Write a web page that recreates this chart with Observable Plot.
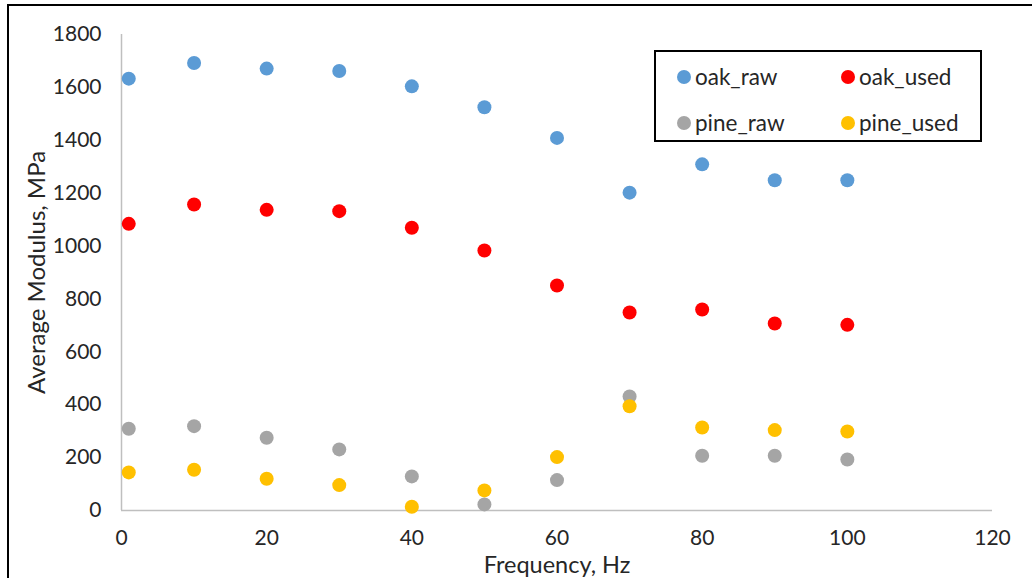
<!DOCTYPE html>
<html>
<head>
<meta charset="utf-8">
<script src="https://cdn.jsdelivr.net/npm/d3@7"></script>
<script src="https://cdn.jsdelivr.net/npm/@observablehq/plot@0.6"></script>
<style>
  html, body { margin: 0; padding: 0; background: #fff; }
  #wrap { position: relative; width: 1032px; height: 578px; overflow: hidden; font-family: Lato, "Noto Sans", sans-serif; }
  #border { position: absolute; left: 7px; top: 4px; width: 1100px; height: 700px; border-left: 2.5px solid #000; border-top: 2.5px solid #000; pointer-events: none; }
  #legend { position: absolute; left: 654px; top: 50px; width: 328px; height: 92px; box-sizing: border-box; border: 2px solid #000; background: #fff; }
  .item { position: absolute; display: flex; align-items: center; font-size: 22.5px; color: #262626; white-space: nowrap; }
  .sw { width: 14px; height: 14px; border-radius: 50%; margin-right: 4px; }
</style>
</head>
<body>
<div id="wrap">
  <div id="chart"></div>
  <div id="border"></div>
  <div id="legend"></div>
</div>
<script>
const freq = [1, 10, 20, 30, 40, 50, 60, 70, 80, 90, 100];
const oak_raw = [1633, 1692, 1671, 1662, 1604, 1525, 1409, 1202, 1309, 1249, 1249];
const oak_used = [1084, 1157, 1137, 1132, 1069, 983, 851, 749, 760, 707, 702];
const pine_raw = [309, 319, 275, 231, 129, 23, 115, 431, 207, 207, 193];
const pine_used = [144, 154, 120, 96, 14, 76, 202, 394, 314, 304, 299];
const seriesNames = ["oak_raw", "oak_used", "pine_raw", "pine_used"];
const seriesColors = ["#5B9BD5", "#FF0000", "#A5A5A5", "#FFC000"];
const xTicks = [0, 20, 40, 60, 80, 100, 120];
const yTicks = [0, 200, 400, 600, 800, 1000, 1200, 1400, 1600, 1800];
const xTitle = "Frequency, Hz";
const yTitle = "Average Modulus, MPa";

const seriesValues = [oak_raw, oak_used, pine_raw, pine_used];
const data = seriesNames.flatMap((name, s) =>
  freq.map((f, i) => ({series: name, freq: f, value: seriesValues[s][i]}))
);

const chart = Plot.plot({
  width: 1032,
  height: 578,
  marginLeft: 121,
  marginRight: 40,
  marginTop: 34,
  marginBottom: 68,
  style: {fontFamily: "Lato, 'Noto Sans', sans-serif", fontSize: "21px", color: "#262626", background: "transparent", overflow: "visible"},
  x: {domain: [0, 120], ticks: xTicks, label: null},
  y: {domain: [0, 1800], ticks: yTicks, label: null},
  color: {domain: seriesNames, range: seriesColors},
  marks: [
    Plot.axisX({ticks: xTicks, tickSize: 0, tickPadding: 20, tickFormat: d => String(d), label: null, fontSize: 21}),
    Plot.axisY({ticks: yTicks, tickSize: 0, tickPadding: 20, tickFormat: d => String(d), label: null, fontSize: 21}),
    Plot.ruleX([0], {stroke: "#BFBFBF", strokeWidth: 1.5}),
    Plot.ruleY([0], {stroke: "#BFBFBF", strokeWidth: 1.5}),
    Plot.dot(data, {x: "freq", y: "value", fill: "series", r: 7, stroke: "none"}),
    Plot.text([xTitle], {frameAnchor: "bottom", dy: 55, lineAnchor: "middle", textAnchor: "middle", fontSize: 23.5, fill: "#262626"}),
    Plot.text([yTitle], {frameAnchor: "left", dx: -84, rotate: -90, lineAnchor: "middle", textAnchor: "middle", fontSize: 24, fill: "#262626"})
  ]
});
document.getElementById("chart").appendChild(chart);

// legend
const legend = document.getElementById("legend");
const pos = [[21, 11], [185, 11], [21, 57], [185, 57]];
seriesNames.forEach((name, i) => {
  const it = document.createElement("div");
  it.className = "item";
  it.style.left = pos[i][0] + "px";
  it.style.top = pos[i][1] + "px";
  const sw = document.createElement("span");
  sw.className = "sw";
  sw.style.background = seriesColors[i];
  const tx = document.createElement("span");
  tx.textContent = name;
  it.appendChild(sw);
  it.appendChild(tx);
  legend.appendChild(it);
});
</script>
</body>
</html>
